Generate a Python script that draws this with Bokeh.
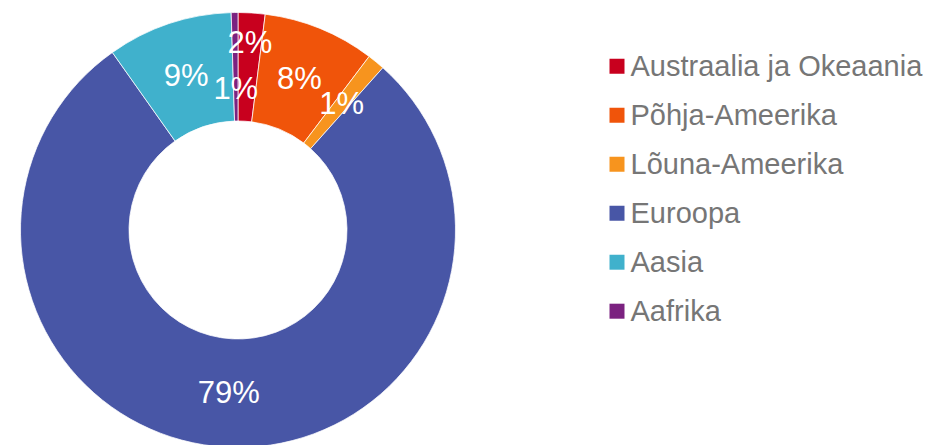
import numpy as np
from bokeh.plotting import figure
from bokeh.models import Range1d, ColumnDataSource
from bokeh.core.properties import value
from bokeh.embed import file_html
from bokeh.resources import INLINE

# Data
categories = ["Austraalia ja Okeaania", "Põhja-Ameerika", "Lõuna-Ameerika",
              "Euroopa", "Aasia", "Aafrika"]
shares = [2.0, 8.3, 1.3, 78.6, 9.3, 0.5]
labels = ["2%", "8%", "1%", "79%", "9%", "1%"]
colors = ["#C8001E", "#F0540A", "#F7941E", "#4856A6", "#40B1CC", "#7B2280"]

# Layout (pixel-like data units, origin at picture's top-left)
W, H = 928, 445
cx, cy = 237.5, H - 229.5
r_out, r_in = 217.5, 109.0
label_shift = [25, 0, 0, 0, 0, -22]

vals = np.array(shares, dtype=float)
frac = vals / vals.sum()
cum_end = np.cumsum(frac)
cum_start = cum_end - frac
start = np.pi / 2 - 2 * np.pi * cum_start
end = np.pi / 2 - 2 * np.pi * cum_end
mid = (start + end) / 2
r_mid = (r_out + r_in) / 2 + np.array(label_shift)
lx = cx + r_mid * np.cos(mid)
ly = cy + r_mid * np.sin(mid)

p = figure(width=W, height=H, output_backend="svg", toolbar_location=None,
           x_range=Range1d(0, W), y_range=Range1d(0, H), min_border=0,
           outline_line_color=None)
p.axis.visible = False
p.grid.visible = False
p.background_fill_color = "white"
p.border_fill_color = "white"

src = ColumnDataSource(dict(start=start, end=end, color=colors, cat=categories))
p.annular_wedge(x=cx, y=cy, inner_radius=r_in, outer_radius=r_out,
                start_angle="start", end_angle="end", direction="clock",
                fill_color="color", line_color="white", line_width=0.75,
                source=src)

p.text(x=lx, y=ly, text=labels, text_align="center", text_baseline="middle",
       text_color="white", text_font=value("Liberation Sans"),
       text_font_size="31px")

# Legend
n = len(categories)
row_y = np.array([H - (65.7 + 49 * i) for i in range(n)])
p.rect(x=[616.5] * n, y=row_y, width=15, height=15, fill_color=colors,
       line_color=None)
p.text(x=[630] * n, y=row_y, text=categories, text_align="left",
       text_baseline="middle", text_color="#767676",
       text_font=value("Liberation Sans"), text_font_size="29px")

open("out.html", "w").write(file_html(p, INLINE))
